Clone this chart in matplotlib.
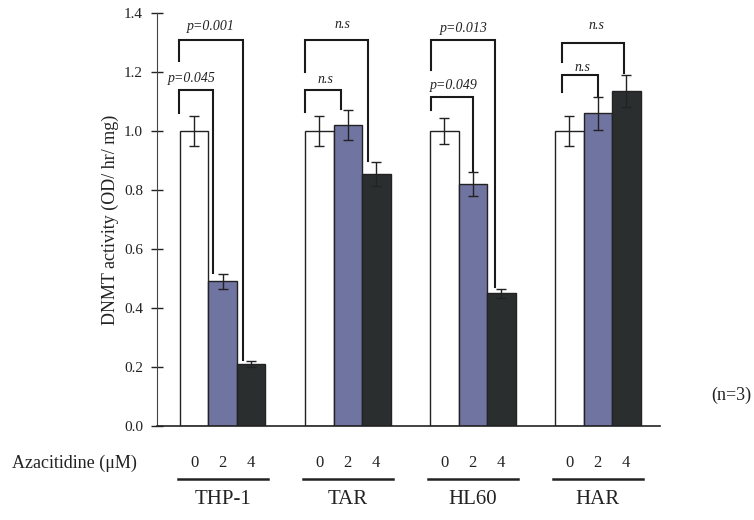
import matplotlib
matplotlib.use("Agg")
import matplotlib.pyplot as plt
from matplotlib.transforms import blended_transform_factory
import numpy as np

plt.rcParams['font.family'] = ['Liberation Serif', 'DejaVu Serif']

# ---- data ----
cell_lines = ["THP-1", "TAR", "HL60", "HAR"]
doses = ["0", "2", "4"]
means_0 = [1.00, 1.00, 1.00, 1.00]
means_2 = [0.49, 1.02, 0.82, 1.06]
means_4 = [0.21, 0.855, 0.45, 1.135]
err_0 = [0.05, 0.05, 0.045, 0.05]
err_2 = [0.025, 0.05, 0.04, 0.055]
err_4 = [0.01, 0.04, 0.015, 0.055]
# significance labels: (0 vs 2), (0 vs 4)
sig_small = ["p=0.045", "n.s", "p=0.049", "n.s"]
sig_big = ["p=0.001", "n.s", "p=0.013", "n.s"]

colors = ["white", "#7074a0", "#2b2e2f"]

# ---- layout ----
fig = plt.figure(figsize=(7.54, 5.2), dpi=100)
ax = fig.add_axes([157/754, 1-426/520, (660-157)/754, (426-13)/520])

bar_w = 1.0
step = 4.386
first = 0.807
starts = first + step*np.arange(len(cell_lines))

means = [means_0, means_2, means_4]
errs = [err_0, err_2, err_4]
for j in range(3):
    x = starts + j*bar_w + bar_w/2
    ax.bar(x, means[j], width=bar_w, color=colors[j], edgecolor="#222222",
           linewidth=1.0, zorder=2)
    ax.errorbar(x, means[j], yerr=errs[j], fmt="none", ecolor="#222222",
                elinewidth=1.0, capsize=3.5, capthick=1.0, zorder=3)

# brackets (layout offsets relative to group start, heights in data units)
br_left = [-0.03, 0.0, 0.03, 0.25]
br_small_r = [1.17, 1.25, 1.5, 1.5]
br_big_r = [2.2, 2.2, 2.28, 2.42]
br_small_top = [1.139, 1.139, 1.115, 1.19]
br_small_lb = [1.061, 1.065, 1.07, 1.133]
br_big_top = [1.308, 1.308, 1.308, 1.30]
br_big_lb = [1.237, 1.20, 1.207, 1.235]
txt_small_x = [0.42, 0.70, 0.84, 0.95]
txt_small_y = [1.166, 1.163, 1.142, 1.203]
txt_big_x = [1.09, 1.30, 1.19, 1.44]
txt_big_y = [1.342, 1.349, 1.336, 1.346]

for g in range(len(cell_lines)):
    s = starts[g]
    xl = s + br_left[g]
    # small bracket: 0 vs 2
    xr = s + br_small_r[g]
    rb = means_2[g] + err_2[g] + 0.005
    ax.plot([xl, xl, xr, xr], [br_small_lb[g], br_small_top[g], br_small_top[g], rb],
            color="#1a1a1a", lw=1.5, zorder=1, solid_joinstyle="miter")
    ax.text(s + txt_small_x[g], txt_small_y[g], sig_small[g], style="italic",
            fontsize=10, ha="center", va="baseline", color="#222222")
    # big bracket: 0 vs 4
    xr = s + br_big_r[g]
    rb = means_4[g] + err_4[g] + 0.005
    ax.plot([xl, xl, xr, xr], [br_big_lb[g], br_big_top[g], br_big_top[g], rb],
            color="#1a1a1a", lw=1.5, zorder=1, solid_joinstyle="miter")
    ax.text(s + txt_big_x[g], txt_big_y[g], sig_big[g], style="italic",
            fontsize=10, ha="center", va="baseline", color="#222222")

ax.set_xlim(0, 503/28.5)
ax.set_ylim(0, 1.4)
ax.set_yticks(np.arange(0, 1.41, 0.2))
ax.set_yticklabels([f"{v:.1f}" for v in np.arange(0, 1.41, 0.2)], fontsize=11)
ax.tick_params(axis="y", direction="inout", length=8, width=1, pad=6, colors="#222222")
ax.set_xticks([])
for sp in ["top", "right"]:
    ax.spines[sp].set_visible(False)
ax.spines["left"].set_color("#444444")
ax.spines["bottom"].set_color("#222222")
ax.spines["bottom"].set_linewidth(1.2)
ax.set_ylabel("DNMT activity (OD/ hr/ mg)", fontsize=13, labelpad=4, color="#222222")

# below-axis labels
trans = blended_transform_factory(ax.transData, fig.transFigure)
for g in range(len(cell_lines)):
    s = starts[g]
    for j, d in enumerate(doses):
        ax.text(s + j*bar_w + bar_w/2, 1-463/520, d, transform=trans, fontsize=12,
                ha="center", va="center", color="#222222")
    ax.plot([s - 0.07, s + 3*bar_w + 0.1], [1-479/520]*2, transform=trans,
            color="#222222", lw=1.8, clip_on=False)
    ax.text(s + 1.5*bar_w, 1-500/520, cell_lines[g], transform=trans, fontsize=15,
            ha="center", va="center", color="#222222")

fig.text(12/754, 1-463/520, "Azacitidine (\u03bcM)", fontsize=13, ha="left", va="center",
         color="#222222")
fig.text(751/754, 1-395/520, "(n=3)", fontsize=13, ha="right", va="center", color="#222222")

fig.savefig("out.png", dpi=100)
